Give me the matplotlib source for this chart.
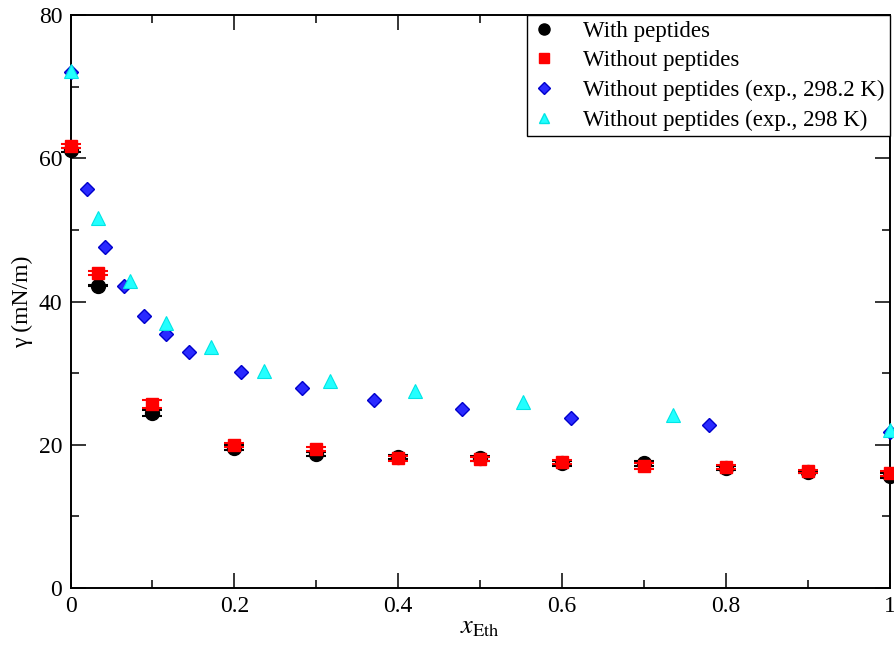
import matplotlib
matplotlib.use("Agg")
import matplotlib.pyplot as plt
from matplotlib.ticker import MultipleLocator, FuncFormatter
from matplotlib.lines import Line2D

plt.rcParams['font.family'] = ['Liberation Serif', 'DejaVu Serif']
plt.rcParams['mathtext.fontset'] = 'stix'

# Simulation data
x_sim = [0.0, 0.033, 0.1, 0.2, 0.3, 0.4, 0.5, 0.6, 0.7, 0.8, 0.9, 1.0]
y_with = [61.2, 42.2, 24.4, 19.6, 18.7, 18.3, 18.1, 17.4, 17.4, 16.8, 16.2, 15.7]
err_with = [0.3, 0.1, 0.4, 0.3, 0.3, 0.3, 0.3, 0.3, 0.3, 0.3, 0.2, 0.3]
y_without = [61.7, 44.0, 25.7, 20.0, 19.4, 18.1, 18.0, 17.6, 17.0, 16.9, 16.3, 16.0]
err_without = [0.3, 0.3, 0.5, 0.3, 0.3, 0.3, 0.3, 0.3, 0.4, 0.3, 0.2, 0.3]

# Experimental data
x_exp1 = [0.0, 0.0205, 0.0425, 0.065, 0.0896, 0.116, 0.1445, 0.2075, 0.283,
          0.3705, 0.4775, 0.6107, 0.7795, 1.0]
y_exp1 = [72.0, 55.7, 47.6, 42.1, 38.0, 35.5, 32.9, 30.1, 27.9,
          26.2, 24.95, 23.8, 22.7, 21.8]
x_exp2 = [0.0, 0.034, 0.0726, 0.117, 0.1713, 0.2363, 0.3165, 0.42, 0.552, 0.735, 1.0]
y_exp2 = [72.2, 51.6, 42.8, 37.0, 33.6, 30.3, 28.9, 27.5, 26.0, 24.2, 22.0]

labels = ["With peptides", "Without peptides",
          "Without peptides (exp., 298.2 K)", "Without peptides (exp., 298 K)"]

fig = plt.figure(figsize=(8.94, 6.48), dpi=100)
ax = fig.add_axes([70.5/894, 1-588/648, (890-70.5)/894, (588-15)/648])

ax.errorbar(x_sim, y_with, yerr=err_with, fmt='none', ecolor='black',
            elinewidth=1.2, capsize=7, capthick=1.5, zorder=2, clip_on=False)
ax.plot(x_sim, y_with, 'o', color='black', markersize=10, zorder=3, clip_on=False)
ax.errorbar(x_sim, y_without, yerr=err_without, fmt='none', ecolor='red',
            elinewidth=1.2, capsize=7, capthick=1.5, zorder=4, clip_on=False)
ax.plot(x_sim, y_without, 's', color='red', markersize=9, zorder=5, clip_on=False)
ax.plot(x_exp1, y_exp1, 'D', color='#2a2aff', markeredgecolor='#0000cc',
        markeredgewidth=1.0, markersize=7, zorder=6, clip_on=False)
ax.plot(x_exp2, y_exp2, '^', color='#22ffff', markeredgecolor='#00e5e5',
        markeredgewidth=0.8, markersize=9.5, zorder=7, clip_on=False)

ax.set_xlim(0, 1)
ax.set_ylim(0, 80)
ax.xaxis.set_major_locator(MultipleLocator(0.2))
ax.xaxis.set_minor_locator(MultipleLocator(0.1))
ax.yaxis.set_major_locator(MultipleLocator(20))
ax.yaxis.set_minor_locator(MultipleLocator(10))
ax.xaxis.set_major_formatter(FuncFormatter(lambda v, p: ('%g' % round(v, 3))))
ax.yaxis.set_major_formatter(FuncFormatter(lambda v, p: ('%g' % v)))
ax.tick_params(which='both', direction='in', top=True, right=True, width=1.1,
               labelsize=17, pad=6)
ax.tick_params(which='major', length=11)
ax.tick_params(which='minor', length=6)
for s in ax.spines.values():
    s.set_linewidth(1.4)

ax.set_xlabel(r'$x_{\mathrm{Eth}}$', fontsize=19, labelpad=0)
ax.set_ylabel('γ (mN/m)', fontsize=17, labelpad=4)

handles = [
    Line2D([], [], linestyle='none', marker='o', color='black', markersize=8),
    Line2D([], [], linestyle='none', marker='s', color='red', markersize=7),
    Line2D([], [], linestyle='none', marker='D', color='#2a2aff', markeredgecolor='#0000cc', markersize=6),
    Line2D([], [], linestyle='none', marker='^', color='#22ffff', markeredgecolor='#00e5e5', markersize=7),
]
leg = ax.legend(handles, labels, loc='upper right', borderaxespad=0, fontsize=16.5,
                fancybox=False, edgecolor='black', framealpha=1, handlelength=1.0,
                handletextpad=1.2, labelspacing=0.37, borderpad=0.25)
leg.get_frame().set_linewidth(1.0)
leg.set_zorder(10)

fig.savefig('out.png', dpi=100)
